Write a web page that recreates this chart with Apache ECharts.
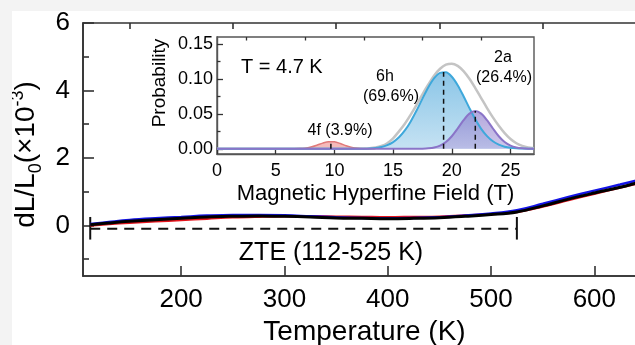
<!DOCTYPE html>
<html>
<head>
<meta charset="utf-8">
<script src="https://cdn.jsdelivr.net/npm/echarts@6.0.0/dist/echarts.min.js"></script>
<style>
html, body { margin: 0; padding: 0; background: #f3f3f3; overflow: hidden; width: 635px; height: 345px; }
#chart { position: absolute; left: 12px; top: 11px; width: 680px; height: 334px; background: #fff; }
</style>
</head>
<body>
<div id="chart"></div>
<script>
// main panel: dL/L0 vs temperature, three runs
var temps = [112, 130, 150, 175, 200, 225, 250, 275, 300, 325, 350, 375, 400, 425, 450, 475, 500, 525, 550, 575, 600, 625, 650];
var runRed = [0.00, 0.04, 0.08, 0.12, 0.16, 0.20, 0.24, 0.26, 0.27, 0.27, 0.26, 0.25, 0.24, 0.25, 0.26, 0.29, 0.33, 0.40, 0.56, 0.75, 0.94, 1.12, 1.30];
var runBlue = [0.04, 0.10, 0.16, 0.21, 0.25, 0.29, 0.31, 0.31, 0.30, 0.27, 0.24, 0.22, 0.21, 0.22, 0.24, 0.29, 0.35, 0.45, 0.64, 0.84, 1.03, 1.21, 1.40];
var runBlack = [0.02, 0.07, 0.12, 0.17, 0.21, 0.25, 0.27, 0.28, 0.27, 0.25, 0.22, 0.21, 0.20, 0.21, 0.23, 0.27, 0.32, 0.40, 0.58, 0.78, 0.96, 1.13, 1.33];
var xMajor = [200, 300, 400, 500, 600];
var xMinor = [150, 250, 350, 450, 550, 650];
var yMajor = [0, 2, 4, 6];
var yMinor = [-1, 1, 3, 5];
var zteRange = [112, 525];
var zteLevel = -0.1;
var capSpan = [-0.42, 0.25];

// inset: hyperfine field distribution at 4.7 K
var field4f = [6, 6.5, 7, 7.5, 8, 8.5, 9, 9.5, 10, 10.5, 11, 11.5, 12, 12.5, 13, 13.5];
var prob4f = [0, 0.0001, 0.0003, 0.0009, 0.0025, 0.0051, 0.0082, 0.0103, 0.0100, 0.0076, 0.0045, 0.0021, 0.0007, 0.0002, 0, 0];
var field = [0, 12, 12.5, 13, 13.5, 14, 14.5, 15, 15.5, 16, 16.5, 17, 17.5, 18, 18.5, 19, 19.5, 20, 20.5, 21, 21.5, 22, 22.5, 23, 23.5, 24, 24.5, 25, 25.5, 26, 26.5, 27];
var prob6h = [0, 0.0001, 0.0002, 0.0006, 0.0013, 0.0027, 0.0053, 0.0097, 0.0165, 0.0263, 0.0392, 0.0549, 0.0718, 0.0881, 0.1011, 0.1087, 0.1094, 0.1031, 0.0910, 0.0752, 0.0582, 0.0422, 0.0286, 0.0182, 0.0108, 0.0060, 0.0031, 0.0015, 0.0007, 0.0003, 0.0001, 0];
var prob2a = [0, 0, 0, 0, 0, 0, 0, 0, 0, 0, 0, 0, 0.0002, 0.0007, 0.0019, 0.0046, 0.0097, 0.0180, 0.0291, 0.0410, 0.0504, 0.0540, 0.0504, 0.0410, 0.0291, 0.0180, 0.0097, 0.0046, 0.0019, 0.0007, 0.0002, 0];
var probTotal = [0, 0.0002, 0.0005, 0.0010, 0.0020, 0.0040, 0.0080, 0.0150, 0.0250, 0.0360, 0.0490, 0.0630, 0.0780, 0.0920, 0.1050, 0.1146, 0.1205, 0.1219, 0.1187, 0.1112, 0.1002, 0.0869, 0.0726, 0.0583, 0.0450, 0.0330, 0.0225, 0.0140, 0.0080, 0.0042, 0.0020, 0.0010];
var peakField = [9.7, 19.3, 22.0];
var peakProb = [0.0105, 0.110, 0.054];
var fxMajor = [0, 5, 10, 15, 20, 25];
var fxMinor = [2.5, 7.5, 12.5, 17.5, 22.5];
var pyMajor = [0, 0.05, 0.10, 0.15];
var pyMinor = [0.025, 0.075, 0.125];

var FONT = "'Liberation Sans', Arial, sans-serif";
var AXIS = '#333';

function pairs(xs, ys) {
    return xs.map(function (x, i) { return [x, ys[i]]; });
}

function label(text, x, y, size, align) {
    return {
        type: 'text', x: x, y: y,
        style: { text: text, fontSize: size, fontFamily: FONT, fill: '#000',
                 align: align || 'center', verticalAlign: 'middle',
                 textAlign: align || 'center', textVerticalAlign: 'middle' }
    };
}

var chart = echarts.init(document.getElementById('chart'));

var option = {
    animation: false,
    textStyle: { fontFamily: FONT },
    grid: [
        { left: 71, top: 12, right: 46, bottom: 69, show: true, borderColor: AXIS, borderWidth: 1.6, outerBoundsMode: 'none', containLabel: false },
        { left: 205, top: 26, width: 317, height: 117, show: true, borderColor: '#555', borderWidth: 1.4, outerBoundsMode: 'none', containLabel: false }
    ],
    xAxis: [
        {
            gridIndex: 0, type: 'value', min: 105, max: 650,
            axisLine: { onZero: false, lineStyle: { color: AXIS, width: 1.6 } },
            axisTick: { inside: true, length: 10, customValues: xMajor, lineStyle: { color: AXIS, width: 1.6 } },
            axisLabel: { customValues: xMajor, fontSize: 26, color: '#000', margin: 11, fontFamily: FONT },
            splitLine: { show: false },
            name: 'Temperature (K)', nameLocation: 'middle', nameGap: 37,
            nameTextStyle: { fontSize: 28, color: '#000', fontFamily: FONT }
        },
        {
            gridIndex: 0, type: 'value', min: 105, max: 650,
            axisLine: { show: false, onZero: false },
            axisTick: { inside: true, length: 6, customValues: xMinor, lineStyle: { color: AXIS, width: 1.6 } },
            axisLabel: { show: false },
            splitLine: { show: false }
        },
        {
            gridIndex: 1, type: 'value', min: 0, max: 27,
            axisLine: { onZero: false, lineStyle: { color: '#555', width: 1.4 } },
            axisTick: { inside: true, length: 6, customValues: fxMajor, lineStyle: { color: '#333', width: 1.3 } },
            axisLabel: { customValues: fxMajor, fontSize: 18, color: '#000', margin: 8, fontFamily: FONT },
            splitLine: { show: false },
            name: 'Magnetic Hyperfine Field (T)', nameLocation: 'middle', nameGap: 29,
            nameTextStyle: { fontSize: 22, color: '#000', fontFamily: FONT }
        },
        {
            gridIndex: 1, type: 'value', min: 0, max: 27,
            axisLine: { show: false, onZero: false },
            axisTick: { inside: true, length: 3.5, customValues: fxMinor, lineStyle: { color: '#333', width: 1.3 } },
            axisLabel: { show: false },
            splitLine: { show: false }
        }
    ],
    yAxis: [
        {
            gridIndex: 0, type: 'value', min: -1.5, max: 6,
            axisLine: { show: true, onZero: false, lineStyle: { color: AXIS, width: 1.6 } },
            axisTick: { show: true, inside: true, length: 11, customValues: yMajor, lineStyle: { color: AXIS, width: 1.6 } },
            axisLabel: { customValues: yMajor, fontSize: 26, color: '#000', margin: 13, fontFamily: FONT },
            splitLine: { show: false },
            name: '{a|dL/L}{s|0}{a|(×10}{p|-3}{a|)}', nameLocation: 'middle', nameGap: 32,
            nameTextStyle: {
                color: '#000',
                padding: [0, 10, 0, 0],
                rich: {
                    a: { fontSize: 28, lineHeight: 36, fontFamily: FONT, color: '#000' },
                    s: { fontSize: 18, lineHeight: 16, verticalAlign: 'bottom', fontFamily: FONT, color: '#000' },
                    p: { fontSize: 18, lineHeight: 18, verticalAlign: 'top', fontFamily: FONT, color: '#000' }
                }
            }
        },
        {
            gridIndex: 0, type: 'value', min: -1.5, max: 6, position: 'left',
            axisLine: { show: false, onZero: false },
            axisTick: { show: true, inside: true, length: 6, customValues: yMinor, lineStyle: { color: AXIS, width: 1.6 } },
            axisLabel: { show: false },
            splitLine: { show: false }
        },
        {
            gridIndex: 1, type: 'value', min: -0.0074, max: 0.16,
            axisLine: { show: true, onZero: false, lineStyle: { color: '#555', width: 1.4 } },
            axisTick: { show: true, inside: true, length: 6, customValues: pyMajor, lineStyle: { color: '#333', width: 1.3 } },
            axisLabel: {
                customValues: pyMajor, fontSize: 18, color: '#000', margin: 4, fontFamily: FONT,
                formatter: function (v) { return v.toFixed(2); }
            },
            splitLine: { show: false }
        },
        {
            gridIndex: 1, type: 'value', min: -0.0074, max: 0.16, position: 'left',
            axisLine: { show: false, onZero: false },
            axisTick: { show: true, inside: true, length: 3.5, customValues: pyMinor, lineStyle: { color: '#333', width: 1.3 } },
            axisLabel: { show: false },
            splitLine: { show: false }
        }
    ],
    graphic: [
        { type: 'text', x: 148, y: 72, rotation: Math.PI / 2,
          style: { text: 'Probability', fontSize: 19, fontFamily: FONT, fill: '#000', align: 'center', verticalAlign: 'middle', textAlign: 'center', textVerticalAlign: 'middle' } },
        label('T = 4.7 K', 229, 56, 20, 'left'),
        label('6h', 373, 66, 16),
        label('(69.6%)', 379, 86, 16),
        label('2a', 491, 47, 16),
        label('(26.4%)', 492, 67, 16),
        label('4f (3.9%)', 328, 120, 16),
        label('ZTE (112-525 K)', 319, 242, 25)
    ],
    series: [
        // ZTE window marker
        { type: 'line', xAxisIndex: 0, yAxisIndex: 0, symbol: 'none', silent: true,
          data: [[zteRange[0], zteLevel], [zteRange[1], zteLevel]],
          lineStyle: { color: '#111', width: 2, type: [10, 7] } },
        { type: 'line', xAxisIndex: 0, yAxisIndex: 0, symbol: 'none', silent: true,
          data: [[zteRange[0], capSpan[0]], [zteRange[0], capSpan[1]]],
          lineStyle: { color: '#111', width: 2 } },
        { type: 'line', xAxisIndex: 0, yAxisIndex: 0, symbol: 'none', silent: true,
          data: [[zteRange[1], capSpan[0]], [zteRange[1], capSpan[1]]],
          lineStyle: { color: '#111', width: 2 } },
        // dilatometry runs
        { type: 'line', xAxisIndex: 0, yAxisIndex: 0, symbol: 'none', smooth: 0.4,
          data: pairs(temps, runRed), lineStyle: { color: '#e4141c', width: 2.5 } },
        { type: 'line', xAxisIndex: 0, yAxisIndex: 0, symbol: 'none', smooth: 0.4,
          data: pairs(temps, runBlue), lineStyle: { color: '#1414e6', width: 2.5 } },
        { type: 'line', xAxisIndex: 0, yAxisIndex: 0, symbol: 'none', smooth: 0.4,
          data: pairs(temps, runBlack), lineStyle: { color: '#000', width: 3 } },
        // inset
        { type: 'line', xAxisIndex: 2, yAxisIndex: 2, symbol: 'none', smooth: 0.3,
          data: pairs(field, probTotal), lineStyle: { color: '#c4c4c4', width: 2.5 } },
        { type: 'line', xAxisIndex: 2, yAxisIndex: 2, symbol: 'none', smooth: 0.3,
          data: pairs(field4f, prob4f), lineStyle: { color: '#e07a7a', width: 1.5 },
          areaStyle: { color: 'rgba(238,132,132,0.8)' } },
        { type: 'line', xAxisIndex: 2, yAxisIndex: 2, symbol: 'none', smooth: 0.3,
          data: pairs(field, prob6h), lineStyle: { color: '#3ea8db', width: 2 },
          areaStyle: { color: new echarts.graphic.LinearGradient(0, 0, 0, 1, [
              { offset: 0, color: '#58acdc' }, { offset: 1, color: '#acd5ed' }]) } },
        { type: 'line', xAxisIndex: 2, yAxisIndex: 2, symbol: 'none', smooth: 0.3,
          data: pairs(field, prob2a), lineStyle: { color: '#8a74c8', width: 2 },
          areaStyle: { color: new echarts.graphic.LinearGradient(0, 0, 0, 1, [
              { offset: 0, color: 'rgba(138,120,202,0.92)' }, { offset: 1, color: 'rgba(178,166,222,0.88)' }]) } }
    ]
};

// dashed guides at each site's peak
peakField.forEach(function (f, i) {
    option.series.push({
        type: 'line', xAxisIndex: 2, yAxisIndex: 2, symbol: 'none', silent: true,
        data: [[f, 0], [f, peakProb[i]]],
        lineStyle: { color: '#111', width: 1.5, type: [5, 4] }
    });
});

chart.setOption(option);
</script>
</body>
</html>
